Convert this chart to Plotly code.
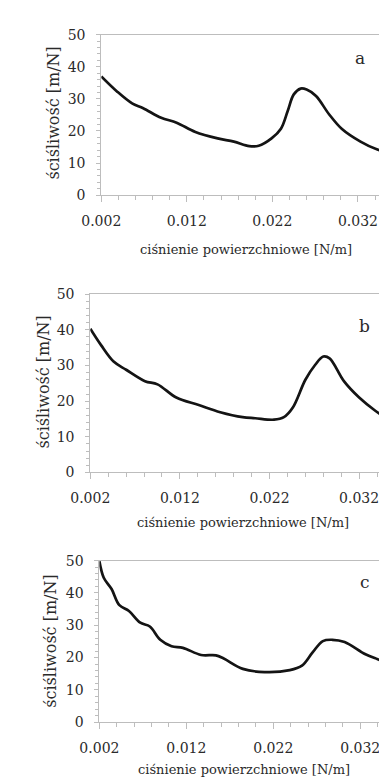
import plotly.graph_objects as go

# Panel a
xa = [0.002, 0.0038, 0.0056, 0.0069, 0.009, 0.0108, 0.013, 0.0156, 0.0175, 0.0193, 0.0204,
      0.0219, 0.023, 0.0238, 0.0245, 0.0253, 0.026, 0.0271, 0.0286, 0.0301, 0.0323, 0.0342, 0.036]
ya = [37.0, 32.4, 28.6, 27.1, 24.1, 22.6, 19.7, 17.7, 16.7, 15.3, 15.4,
      17.7, 20.7, 26.3, 31.4, 33.2, 32.9, 30.9, 25.3, 20.7, 16.7, 14.3, 13.1]

# Panel b
xb = [0.002, 0.0032, 0.0046, 0.006, 0.0081, 0.0095, 0.0116, 0.0141, 0.0165, 0.019, 0.0204,
      0.0225, 0.0236, 0.0246, 0.026, 0.0271, 0.028, 0.0287, 0.0303, 0.032, 0.0338, 0.0359]
yb = [40.3, 35.7, 31.1, 28.8, 25.6, 24.7, 21.0, 18.9, 16.9, 15.5, 15.2,
      14.8, 15.5, 18.2, 26.0, 30.2, 32.5, 32.0, 25.6, 21.0, 17.3, 13.8]

# Panel c
xc = [0.002, 0.0025, 0.0034, 0.0043, 0.0054, 0.0067, 0.0078, 0.009, 0.0103, 0.0116, 0.0137,
      0.0154, 0.0163, 0.0185, 0.021, 0.0239, 0.0253, 0.0265, 0.0277, 0.0288, 0.0302, 0.0326,
      0.034, 0.0359]
yc = [49.8, 44.7, 41.2, 36.2, 34.4, 30.8, 29.6, 25.5, 23.5, 23.0, 20.8,
      20.7, 19.7, 16.5, 15.5, 16.1, 17.5, 21.5, 25.1, 25.5, 24.8, 21.0,
      19.5, 17.7]

panel_letters = ["a", "b", "c"]
x_title = "ciśnienie powierzchniowe [N/m]"
y_title = "ściśliwość [m/N]"

W, H = 387, 780
FONT = "DejaVu Serif"
AXC = "#bdbdbd"
TXT = "#2a2a2a"

def px(x):
    return x / W

def py(y):
    return 1 - y / H

# plot area pixel boxes (left, right, top, bottom)
boxes = [(77.3, 384, 19, 183), (65.7, 387, 284, 466), (75.3, 387, 556, 721)]
data = [(xa, ya), (xb, yb), (xc, yc)]

fig = go.Figure()
layout = dict(width=W, height=H, margin=dict(l=0, r=0, t=0, b=0),
              paper_bgcolor="white", plot_bgcolor="white", showlegend=False,
              font=dict(family=FONT, size=13, color=TXT))

annotations = []
for i, ((x, y), (l, r, t, b)) in enumerate(zip(data, boxes)):
    n = "" if i == 0 else str(i + 1)
    fig.add_trace(go.Scatter(x=x, y=y, mode="lines", xaxis="x" + n, yaxis="y" + n,
                             line=dict(color="#141414", width=2.7, shape="spline", smoothing=1.0),
                             hoverinfo="skip"))
    layout["xaxis" + n] = dict(
        domain=[px(l), px(r)], range=[0.002, 0.036], anchor="y" + n,
        tick0=0.002, dtick=0.01, tickformat=".3f", ticks="outside", ticklen=6,
        tickcolor=AXC, showline=True, linecolor=AXC, linewidth=1, mirror=True,
        showgrid=False, zeroline=False, ticklabelstandoff=7,
        tickfont=dict(family=FONT, size=14, color=TXT),
        minor=dict(tick0=0.002, dtick=0.002, ticks="outside", ticklen=4, tickcolor=AXC, showgrid=False),
    )
    layout["yaxis" + n] = dict(
        domain=[py(b), py(t)], range=[0, 50], anchor="x" + n,
        dtick=10, ticks="outside", ticklen=4, tickcolor=AXC,
        showline=True, linecolor=AXC, linewidth=1, mirror=(i == 0),
        showgrid=False, zeroline=False, ticklabelstandoff=8,
        tickfont=dict(family=FONT, size=14, color=TXT),
        minor=dict(dtick=2, ticks="outside", ticklen=3, tickcolor=AXC, showgrid=False),
    )

# axis titles and panel letters
ytitle_pos = [(27, 99), (16, 374), (24, 638)]
xtitle_pos = [(230, 238), (227, 517), (228, 769)]
letter_pos = [(350, 43), (355, 316), (355, 578)]
for i in range(3):
    annotations.append(dict(text=y_title, x=px(ytitle_pos[i][0]), y=py(ytitle_pos[i][1]),
                            xref="paper", yref="paper", showarrow=False, textangle=-90,
                            xanchor="center", yanchor="middle",
                            font=dict(family=FONT, size=16, color=TXT)))
    annotations.append(dict(text=x_title, x=px(xtitle_pos[i][0]), y=py(xtitle_pos[i][1]),
                            xref="paper", yref="paper", showarrow=False,
                            xanchor="center", yanchor="middle",
                            font=dict(family=FONT, size=13, color=TXT)))
    annotations.append(dict(text=panel_letters[i], x=px(letter_pos[i][0]), y=py(letter_pos[i][1]),
                            xref="paper", yref="paper", showarrow=False,
                            xanchor="center", yanchor="middle",
                            font=dict(family=FONT, size=17, color=TXT)))

layout["annotations"] = annotations
fig.update_layout(**layout)
fig.write_html("out.html")
